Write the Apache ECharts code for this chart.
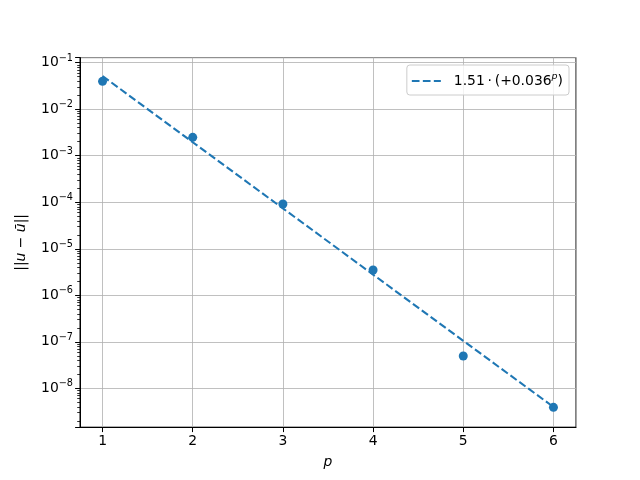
<!DOCTYPE html>
<html>
<head>
<meta charset="utf-8">
<script src="https://cdn.jsdelivr.net/npm/echarts@6/dist/echarts.min.js"></script>
<style>html,body{margin:0;padding:0;background:#fff}#c{width:640px;height:480px}</style>
</head>
<body>
<div id="c"></div>
<script>
// data
const pValues = [1, 2, 3, 4, 5, 6];
const errorValues = [0.0398, 2.49e-3, 9.16e-5, 3.49e-6, 4.94e-8, 3.9e-9];
const fitValues = [0.0518, 1.95e-3, 7.38e-5, 2.79e-6, 1.05e-7, 3.97e-9];
const xTicks = [1, 2, 3, 4, 5, 6];
const fitLabel = '1.51\u2009·\u2009(+0.036{sup|p})';

const FONT = 'DejaVu Sans';
const BLUE = '#1f77b4';
const logMin = -8.836, logMax = -0.890;
const yMin = Math.pow(10, logMin), yMax = Math.pow(10, logMax);

const chart = echarts.init(document.getElementById('c'), null, {renderer: 'canvas'});
chart.setOption({
  animation: false,
  backgroundColor: '#fff',
  textStyle: {fontFamily: FONT},
  grid: {left: 80, right: 64, top: 57.6, bottom: 52.8, show: true, borderColor: '#000', borderWidth: 1, containLabel: false},
  legend: {
    show: true,
    right: 71, top: 65,
    orient: 'vertical',
    data: [{name: 'fit', itemStyle: {color: 'rgba(0,0,0,0)', borderWidth: 0, opacity: 0}}],
    formatter: () => fitLabel,
    itemWidth: 29, itemHeight: 10, itemGap: 0,
    padding: [7, 6, 7, 4],
    backgroundColor: 'rgba(255,255,255,0.8)',
    borderColor: '#cccccc', borderWidth: 1, borderRadius: 3,
    textStyle: {
      fontFamily: FONT, fontSize: 13.9, color: '#000', padding: [0, 0, 0, 8],
      rich: {sup: {fontFamily: FONT, fontSize: 9.5, fontStyle: 'italic', padding: [0, 0, 8, 0], color: '#000'}}
    }
  },
  xAxis: {
    type: 'value', min: 0.75, max: 6.25, splitNumber: 5,
    name: 'p', nameLocation: 'middle', nameGap: 28,
    nameTextStyle: {fontFamily: FONT, fontSize: 13.9, fontStyle: 'italic', color: '#000'},
    axisLine: {show: true, onZero: false, lineStyle: {color: '#000', width: 1}},
    axisTick: {show: true, length: 4.9, lineStyle: {color: '#000'}},
    axisLabel: {
      showMinLabel: false, showMaxLabel: false, margin: 7,
      fontFamily: FONT, fontSize: 13.9, color: '#000',
      formatter: v => (Math.abs(v - Math.round(v)) < 1e-9 && xTicks.includes(Math.round(v))) ? String(Math.round(v)) : ''
    },
    splitLine: {show: true, lineStyle: {color: '#b0b0b0', width: 0.8}}
  },
  yAxis: {
    type: 'log', logBase: 10, min: yMin, max: yMax,
    name: '||{i|u} − {i|ū}||', nameLocation: 'middle', nameGap: 52, nameRotate: 90,
    nameTextStyle: {fontFamily: FONT, fontSize: 13.9, color: '#000',
      rich: {i: {fontFamily: FONT, fontSize: 13.9, fontStyle: 'italic', color: '#000'}}},
    axisLine: {show: true, lineStyle: {color: '#000', width: 1}},
    axisTick: {show: true, length: 4.9, lineStyle: {color: '#000'}},
    minorTick: {show: true, splitNumber: 9, length: 2.8, lineStyle: {color: '#000', width: 0.8}},
    axisLabel: {
      showMinLabel: false, showMaxLabel: false, margin: 7,
      fontFamily: FONT, fontSize: 13.9, color: '#000',
      formatter: v => {
        const e = Math.log10(v);
        if (Math.abs(e - Math.round(e)) > 1e-6) return '';
        const r = Math.round(e);
        return '10{sup|' + (r < 0 ? '−' + (-r) : r) + '}';
      },
      rich: {sup: {fontFamily: FONT, fontSize: 9.7, color: '#000', padding: [0, 0, 9, 0]}}
    },
    splitLine: {show: true, lineStyle: {color: '#b0b0b0', width: 0.8}}
  },
  series: [{
    name: 'fit', type: 'line',
    data: pValues.map((p, i) => [p, fitValues[i]]),
    showSymbol: false, symbol: 'none',
    lineStyle: {color: BLUE, width: 2.08, type: [7.7, 3.3]},
    itemStyle: {color: BLUE},
    z: 3
  }, {
    name: 'data', type: 'scatter',
    data: pValues.map((p, i) => [p, errorValues[i]]),
    symbol: 'circle', symbolSize: 9,
    itemStyle: {color: BLUE, opacity: 1},
    z: 2
  }]
});
</script>
</body>
</html>
